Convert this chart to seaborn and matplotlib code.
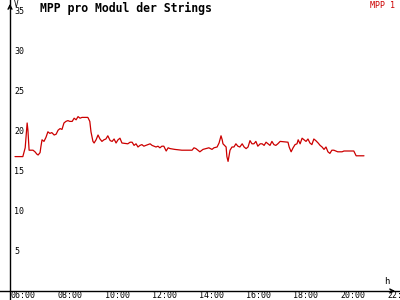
import matplotlib
matplotlib.use("Agg")
import matplotlib.pyplot as plt
import matplotlib.transforms as mtransforms
import seaborn as sns
import pandas as pd

times = ["06:00", "06:20", "06:26", "06:31", "06:33", "06:36", "06:46", "06:51", "06:56", "06:59",
         "07:04", "07:06", "07:09", "07:14", "07:19", "07:24", "07:29", "07:34", "07:40", "07:45",
         "07:50", "07:55", "08:00", "08:05", "08:10", "08:15", "08:20", "08:26", "08:31", "08:36",
         "08:41", "08:46", "08:51", "09:06", "09:11", "09:14", "09:19", "09:22", "09:27", "09:32",
         "09:37", "09:42", "09:47", "09:52", "09:57", "10:03", "10:08", "10:13", "10:18", "10:23",
         "10:28", "10:33", "10:48", "10:54", "10:59", "11:04", "11:09", "11:14", "11:19", "11:24",
         "11:29", "11:34", "11:45", "11:50", "12:00", "12:05", "12:10", "12:15", "12:20", "12:26",
         "12:31", "12:36", "12:48", "13:06", "13:32", "13:37", "13:42", "13:47", "13:52", "14:00",
         "14:08", "14:15", "14:23", "14:28", "14:36", "14:41", "14:46", "14:49", "14:51", "14:59",
         "15:01", "15:04", "15:09", "15:14", "15:19", "15:24", "15:29", "15:34", "15:40", "15:45",
         "15:50", "15:55", "16:00", "16:05", "16:10", "16:15", "16:20", "16:26", "16:31", "16:36",
         "16:41", "16:46", "16:51", "16:56", "17:01", "17:06", "17:11", "17:17", "17:37", "17:40",
         "17:45", "17:50", "17:55", "18:00", "18:03", "18:08", "18:13", "18:18", "18:23", "18:28",
         "18:33", "18:38", "18:43", "18:48", "18:54", "18:59", "19:04", "19:09", "19:14", "19:19",
         "19:24", "19:29", "19:34", "19:39", "19:44", "19:55", "20:00", "20:25", "20:31", "20:51"]
mpp1 = [16.8, 16.8, 17.9, 21.0, 20.1, 17.6, 17.6, 17.4, 17.1, 17.0,
        17.3, 18.0, 18.9, 18.7, 19.2, 19.9, 19.7, 19.8, 19.5, 19.6,
        20.1, 20.3, 20.2, 21.0, 21.2, 21.3, 21.2, 21.2, 21.6, 21.4,
        21.8, 21.6, 21.7, 21.7, 21.2, 19.9, 18.7, 18.5, 18.9, 19.5,
        19.0, 18.7, 18.9, 19.0, 19.4, 18.8, 18.7, 19.0, 18.5, 18.9,
        19.1, 18.5, 18.4, 18.6, 18.6, 18.2, 18.4, 18.0, 18.2, 18.3,
        18.1, 18.2, 18.4, 18.2, 18.0, 18.1, 17.9, 18.1, 18.1, 17.5,
        17.9, 17.8, 17.7, 17.6, 17.6, 17.9, 17.8, 17.6, 17.4, 17.7,
        17.8, 17.9, 17.7, 17.9, 18.0, 18.5, 19.4, 18.9, 18.4, 18.0,
        16.8, 16.2, 17.6, 18.0, 18.0, 18.4, 18.1, 18.0, 18.4, 18.0,
        17.8, 18.0, 18.8, 18.4, 18.4, 18.7, 18.1, 18.4, 18.4, 18.2,
        18.6, 18.4, 18.2, 18.7, 18.3, 18.2, 18.4, 18.7, 18.6, 18.0,
        17.4, 17.9, 18.3, 18.4, 18.9, 18.4, 19.1, 18.9, 18.7, 19.0,
        18.5, 18.3, 19.0, 18.8, 18.5, 18.2, 18.0, 17.7, 18.0, 17.4,
        17.2, 17.6, 17.6, 17.5, 17.4, 17.4, 17.5, 17.5, 16.9, 16.9]
x_ticks = [6, 8, 10, 12, 14, 16, 18, 20, 22]
x_labels = ["06:00", "08:00", "10:00", "12:00", "14:00", "16:00", "18:00", "20:00", "22:00"]
y_ticks = [5, 10, 15, 20, 25, 30, 35]

def to_hours(t):
    h, m = t.split(":")
    return int(h) + int(m) / 60.0

df = pd.DataFrame({"hour": [to_hours(t) for t in times], "value": mpp1})

sns.set_style("white")
plt.rcParams["font.family"] = ["DejaVu Sans Mono"]

fig = plt.figure(figsize=(4, 3), dpi=100)
ax = fig.add_axes([0, 0, 1, 1])

PXH = 23.5  # px per hour
PXV = 8.0   # px per volt
x0 = 6 - 15 / PXH
x1 = 6 + 385 / PXH
ax.set_xlim(x0, x1)
ax.set_ylim(-9 / PXV, 291 / PXV)
x_axis_pos = 6 - 5 / PXH

red = "#cc0000"
sns.lineplot(data=df, x="hour", y="value", ax=ax, color=red, linewidth=0.9, legend=False)

for s in ["top", "right"]:
    ax.spines[s].set_visible(False)
ax.spines["left"].set_position(("data", x_axis_pos))
ax.spines["bottom"].set_position(("data", 0))
for s in ["left", "bottom"]:
    ax.spines[s].set_color("black")
    ax.spines[s].set_linewidth(1.0)

ax.annotate("", xy=(x_axis_pos, 290 / PXV), xytext=(x_axis_pos, 280 / PXV),
            arrowprops=dict(arrowstyle="->", color="black", lw=1.0, mutation_scale=7))
ax.annotate("", xy=(x0 + 398 / PXH, 0), xytext=(x0 + 388 / PXH, 0),
            arrowprops=dict(arrowstyle="->", color="black", lw=1.0, mutation_scale=7))

ax.set_xticks(x_ticks)
ax.set_xticklabels(x_labels)
ax.set_yticks(y_ticks)
ax.set_yticklabels([str(v) for v in y_ticks])
ax.tick_params(axis="both", direction="inout", length=3.5, width=1, color="black",
               labelsize=6, labelcolor="black")
ax.tick_params(axis="x", pad=-1.5)
ax.tick_params(axis="y", pad=-4.8)
for lab in ax.get_xticklabels():
    lab.set_horizontalalignment("left")
    lab.set_transform(lab.get_transform() + mtransforms.ScaledTranslation(-4 / 100, 0, fig.dpi_scale_trans))
for lab in ax.get_yticklabels():
    lab.set_horizontalalignment("left")
ax.set_xlabel("")
ax.set_ylabel("")

fig.text(40 / 400, 1 - 8 / 300, "MPP pro Modul der Strings", fontsize=8.3, fontweight="bold",
         color="black", ha="left", va="center")
fig.text(395 / 400, 1 - 1 / 300, "MPP 1", fontsize=6, color=red, ha="right", va="top")
fig.text(14 / 400, 1 - 0 / 300, "V", fontsize=5.5, color="black", ha="left", va="top")
fig.text(387 / 400, 1 - 281 / 300, "h", fontsize=6.5, color="black", ha="center", va="center")

fig.savefig("out.png", dpi=100, facecolor="white")
